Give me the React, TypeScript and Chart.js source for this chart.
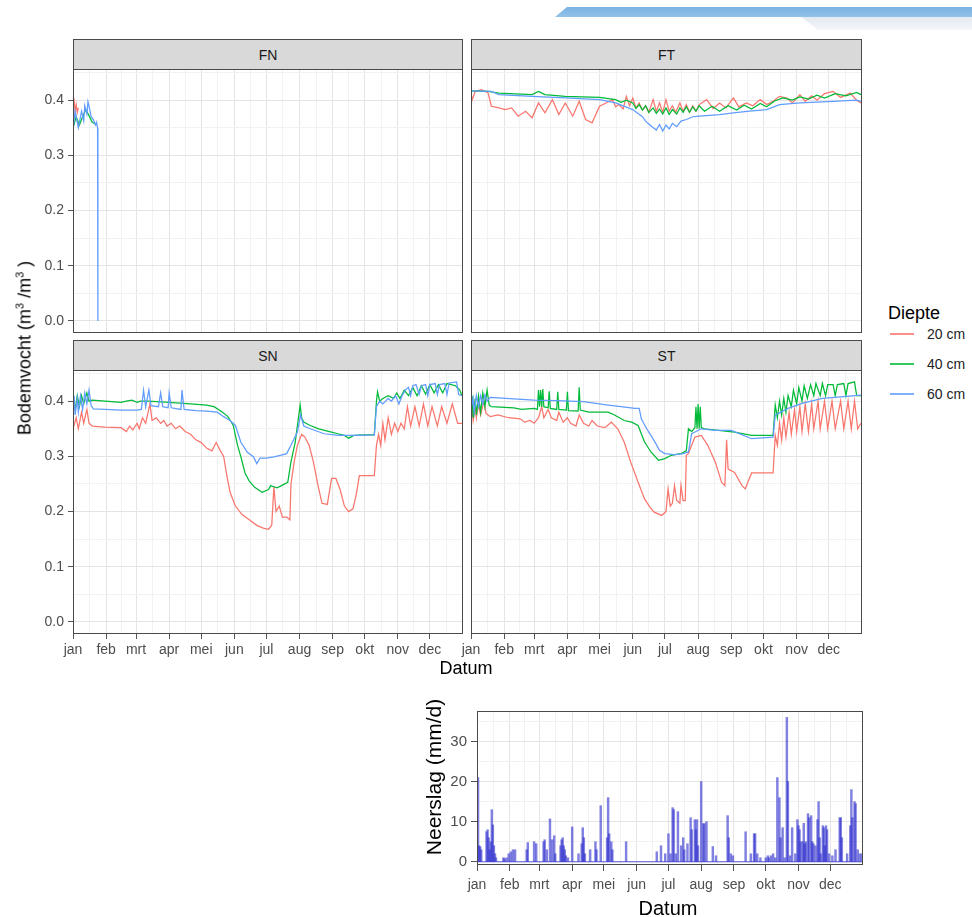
import React, { useEffect, useRef } from "react";
import { Chart, registerables } from "chart.js";

Chart.register(...registerables);

const FONT = "'Liberation Sans', Arial, Helvetica, sans-serif";

// ---------- categories / ticks ----------
const MONTH_LABELS = ["jan", "feb", "mrt", "apr", "mei", "jun", "jul", "aug", "sep", "okt", "nov", "dec"];
const MONTH_START_DAYS = [0, 31, 59, 90, 120, 151, 181, 212, 243, 273, 304, 334];
const YEAR_END_DAY = 365;
const MOISTURE_MAJOR = [0, 0.1, 0.2, 0.3, 0.4];
const MOISTURE_MINOR = [0.05, 0.15, 0.25, 0.35, 0.45];
const MOISTURE_MIN = -0.0218;
const MOISTURE_MAX = 0.4565;
const RAIN_MAJOR = [0, 10, 20, 30];
const RAIN_MINOR = [5, 15, 25, 35];
const RAIN_MIN = -0.8;
const RAIN_MAX = 37.6;
const DEPTHS = ["20 cm", "40 cm", "60 cm"];
const DEPTH_COLORS = ["#F8766D", "#00BA38", "#619CFF"];

// ---------- soil moisture series: [day of year, m3/m3] ----------
const FN_20 = [[0, 0.395], [1, 0.4], [2, 0.38], [3, 0.392], [4, 0.378], [5, 0.386]];
const FN_40 = [[0, 0.35], [3, 0.37], [6, 0.355], [9, 0.37], [12, 0.383], [15, 0.372], [18, 0.36], [21, 0.357], [22, 0.355]];
const FN_60 = [[0, 0.345], [2, 0.38], [4, 0.36], [5, 0.35], [7, 0.37], [8, 0.38], [10, 0.362], [11, 0.39], [13, 0.375], [14, 0.397], [16, 0.38], [17, 0.37], [19, 0.365], [21, 0.355], [22, 0.36], [23, 0.35], [23.3, 0.0]];

const FT_20 = [[0, 0.414], [1, 0.4], [4, 0.416], [10, 0.419], [16, 0.413], [19, 0.389], [26, 0.386], [32, 0.383], [38, 0.386], [44, 0.371], [51, 0.38], [57, 0.368], [63, 0.395], [69, 0.377], [76, 0.401], [82, 0.374], [88, 0.395], [95, 0.371], [101, 0.398], [107, 0.365], [113, 0.359], [120, 0.389], [126, 0.395], [132, 0.401], [135, 0.388], [138, 0.392], [142, 0.384], [145, 0.407], [148, 0.39], [151, 0.404], [154, 0.386], [157, 0.395], [160, 0.382], [163, 0.39], [166, 0.378], [170, 0.401], [173, 0.38], [176, 0.395], [179, 0.378], [182, 0.401], [185, 0.38], [188, 0.39], [191, 0.378], [195, 0.395], [198, 0.38], [201, 0.392], [204, 0.378], [207, 0.39], [210, 0.38], [213, 0.392], [220, 0.401], [226, 0.385], [232, 0.395], [238, 0.386], [245, 0.404], [250, 0.388], [257, 0.395], [263, 0.39], [270, 0.401], [276, 0.392], [282, 0.398], [288, 0.407], [295, 0.404], [300, 0.395], [307, 0.41], [312, 0.398], [318, 0.408], [323, 0.4], [330, 0.412], [338, 0.416], [345, 0.405], [354, 0.413], [360, 0.4], [364, 0.395]];
const FT_40 = [[0, 0.417], [16, 0.416], [26, 0.413], [57, 0.41], [63, 0.416], [69, 0.41], [88, 0.407], [120, 0.405], [135, 0.401], [140, 0.396], [145, 0.4], [151, 0.395], [154, 0.385], [157, 0.392], [160, 0.382], [163, 0.39], [166, 0.378], [170, 0.386], [173, 0.376], [176, 0.384], [179, 0.375], [182, 0.386], [185, 0.374], [188, 0.383], [192, 0.375], [195, 0.386], [198, 0.378], [201, 0.388], [204, 0.378], [207, 0.388], [210, 0.38], [213, 0.39], [218, 0.38], [225, 0.389], [232, 0.38], [240, 0.39], [248, 0.382], [255, 0.391], [262, 0.384], [270, 0.394], [276, 0.388], [283, 0.398], [291, 0.404], [300, 0.4], [307, 0.406], [315, 0.402], [323, 0.409], [330, 0.404], [340, 0.412], [350, 0.408], [360, 0.414], [364, 0.41]];
const FT_60 = [[0, 0.417], [19, 0.416], [26, 0.41], [57, 0.407], [88, 0.404], [120, 0.401], [135, 0.395], [151, 0.383], [160, 0.37], [163, 0.362], [166, 0.357], [169, 0.352], [173, 0.346], [176, 0.356], [179, 0.344], [182, 0.355], [185, 0.348], [188, 0.358], [192, 0.352], [196, 0.362], [201, 0.365], [207, 0.37], [213, 0.371], [232, 0.374], [245, 0.377], [260, 0.38], [276, 0.383], [288, 0.392], [307, 0.395], [338, 0.398], [360, 0.4], [364, 0.398]];

const SN_20 = [[0, 0.35], [3, 0.37], [5, 0.35], [8, 0.38], [10, 0.36], [13, 0.385], [15, 0.36], [18, 0.355], [30, 0.353], [45, 0.352], [50, 0.345], [53, 0.355], [56, 0.348], [60, 0.36], [62, 0.35], [65, 0.37], [68, 0.36], [72, 0.395], [74, 0.365], [78, 0.37], [82, 0.36], [85, 0.365], [88, 0.355], [92, 0.36], [96, 0.35], [100, 0.355], [105, 0.345], [110, 0.34], [115, 0.33], [120, 0.325], [125, 0.315], [130, 0.31], [134, 0.325], [138, 0.31], [141, 0.3], [144, 0.265], [147, 0.235], [152, 0.21], [158, 0.195], [165, 0.185], [172, 0.175], [178, 0.17], [183, 0.168], [186, 0.175], [188, 0.245], [190, 0.2], [193, 0.21], [196, 0.19], [200, 0.19], [203, 0.185], [204, 0.25], [207, 0.29], [210, 0.32], [214, 0.34], [217, 0.335], [221, 0.32], [225, 0.29], [229, 0.25], [233, 0.215], [238, 0.213], [242, 0.26], [246, 0.26], [250, 0.24], [254, 0.21], [258, 0.2], [262, 0.205], [265, 0.23], [268, 0.265], [275, 0.265], [282, 0.265], [284, 0.32], [286, 0.34], [288, 0.32], [290, 0.36], [292, 0.33], [295, 0.37], [298, 0.34], [301, 0.36], [304, 0.345], [307, 0.36], [310, 0.35], [313, 0.39], [316, 0.355], [320, 0.39], [324, 0.355], [328, 0.395], [332, 0.355], [336, 0.39], [341, 0.355], [345, 0.39], [350, 0.36], [355, 0.395], [360, 0.36], [364, 0.36]];
const SN_40 = [[0, 0.4], [2, 0.385], [4, 0.41], [6, 0.39], [8, 0.41], [10, 0.395], [13, 0.415], [15, 0.4], [18, 0.402], [30, 0.4], [45, 0.398], [50, 0.4], [55, 0.402], [60, 0.398], [63, 0.4], [70, 0.4], [90, 0.398], [110, 0.395], [125, 0.393], [132, 0.39], [140, 0.38], [145, 0.372], [150, 0.356], [154, 0.32], [157, 0.3], [161, 0.27], [165, 0.255], [170, 0.244], [177, 0.235], [183, 0.24], [185, 0.247], [188, 0.245], [191, 0.243], [196, 0.248], [201, 0.253], [204, 0.29], [208, 0.326], [211, 0.37], [212.6, 0.393], [214, 0.37], [216, 0.362], [222, 0.356], [230, 0.35], [240, 0.345], [248, 0.341], [254, 0.338], [258, 0.333], [263, 0.338], [272, 0.339], [282, 0.339], [284, 0.4], [285, 0.417], [287, 0.4], [290, 0.405], [295, 0.41], [300, 0.405], [303, 0.415], [306, 0.405], [310, 0.42], [314, 0.41], [318, 0.425], [322, 0.41], [326, 0.428], [330, 0.413], [334, 0.43], [338, 0.415], [342, 0.43], [346, 0.415], [350, 0.432], [354, 0.43], [358, 0.428], [362, 0.42], [364, 0.41]];
const SN_60 = [[0, 0.39], [1, 0.41], [2, 0.375], [4, 0.405], [5, 0.38], [7, 0.41], [9, 0.385], [11, 0.415], [13, 0.395], [15, 0.42], [17, 0.392], [19, 0.386], [30, 0.385], [45, 0.384], [60, 0.384], [64, 0.385], [66, 0.42], [68, 0.39], [71, 0.42], [73, 0.392], [80, 0.39], [82, 0.415], [84, 0.39], [89, 0.388], [90, 0.415], [92, 0.388], [101, 0.385], [102, 0.42], [104, 0.385], [115, 0.383], [125, 0.382], [135, 0.38], [141, 0.372], [147, 0.365], [152, 0.356], [157, 0.326], [163, 0.308], [169, 0.299], [172, 0.287], [175, 0.297], [181, 0.297], [188, 0.299], [194, 0.302], [200, 0.305], [204, 0.32], [210, 0.344], [213, 0.375], [216, 0.355], [222, 0.35], [235, 0.341], [248, 0.338], [263, 0.338], [282, 0.339], [284, 0.39], [287, 0.4], [290, 0.395], [295, 0.405], [298, 0.4], [302, 0.41], [305, 0.395], [308, 0.41], [311, 0.42], [314, 0.425], [316, 0.41], [318, 0.428], [321, 0.43], [324, 0.412], [326, 0.428], [330, 0.43], [332, 0.41], [334, 0.43], [339, 0.432], [341, 0.412], [343, 0.43], [348, 0.432], [350, 0.412], [352, 0.433], [359, 0.435], [361, 0.412], [364, 0.41]];

const ST_20 = [[0, 0.37], [1, 0.385], [2, 0.365], [4, 0.39], [5, 0.37], [7, 0.395], [9, 0.375], [12, 0.4], [14, 0.378], [18, 0.372], [25, 0.375], [35, 0.37], [46, 0.368], [50, 0.362], [55, 0.365], [59, 0.36], [63, 0.37], [66, 0.39], [68, 0.37], [72, 0.385], [75, 0.37], [80, 0.365], [82, 0.38], [86, 0.362], [90, 0.37], [93, 0.36], [98, 0.355], [101, 0.375], [105, 0.36], [110, 0.355], [113, 0.365], [118, 0.355], [125, 0.352], [131, 0.362], [137, 0.35], [143, 0.326], [149, 0.29], [156, 0.253], [162, 0.223], [167, 0.208], [171, 0.199], [178, 0.193], [182, 0.2], [184, 0.241], [186, 0.21], [188, 0.215], [190, 0.247], [192, 0.22], [195, 0.215], [196, 0.247], [198, 0.22], [200, 0.22], [201, 0.302], [203, 0.305], [206, 0.32], [209, 0.335], [215, 0.338], [221, 0.32], [228, 0.29], [234, 0.253], [237, 0.247], [238.6, 0.33], [240, 0.277], [246, 0.271], [253, 0.247], [256, 0.241], [259, 0.256], [262, 0.27], [270, 0.27], [282, 0.27], [284, 0.338], [286, 0.32], [288, 0.36], [290, 0.33], [292, 0.37], [294, 0.335], [297, 0.38], [299, 0.34], [302, 0.385], [304, 0.345], [307, 0.39], [309, 0.345], [312, 0.395], [315, 0.345], [318, 0.395], [320, 0.35], [324, 0.4], [326, 0.35], [330, 0.4], [333, 0.35], [337, 0.4], [340, 0.35], [345, 0.4], [348, 0.35], [352, 0.4], [355, 0.35], [358, 0.4], [361, 0.35], [364, 0.36]];
const ST_40 = [[0, 0.38], [1, 0.41], [2, 0.37], [4, 0.405], [5, 0.375], [7, 0.41], [9, 0.38], [11, 0.415], [13, 0.39], [15, 0.42], [17, 0.393], [19, 0.39], [40, 0.388], [47, 0.385], [59, 0.387], [62, 0.385], [63, 0.42], [64, 0.39], [65, 0.42], [66, 0.39], [67, 0.422], [68, 0.39], [72, 0.388], [73, 0.418], [74, 0.387], [80, 0.385], [81, 0.417], [82, 0.385], [89, 0.384], [90, 0.417], [91, 0.383], [100, 0.382], [101, 0.425], [102, 0.384], [110, 0.38], [128, 0.38], [134, 0.375], [143, 0.365], [150, 0.362], [156, 0.356], [162, 0.326], [168, 0.308], [175, 0.293], [181, 0.296], [187, 0.302], [196, 0.305], [201, 0.31], [203, 0.35], [206, 0.345], [209, 0.352], [210, 0.39], [211, 0.35], [212, 0.395], [213, 0.35], [214, 0.39], [215, 0.352], [218, 0.35], [231, 0.347], [246, 0.344], [262, 0.338], [282, 0.338], [284, 0.393], [286, 0.37], [288, 0.4], [290, 0.375], [292, 0.405], [294, 0.38], [296, 0.41], [299, 0.39], [301, 0.42], [304, 0.395], [306, 0.425], [309, 0.4], [311, 0.428], [314, 0.405], [317, 0.43], [320, 0.41], [322, 0.432], [326, 0.41], [328, 0.432], [331, 0.41], [333, 0.43], [338, 0.43], [340, 0.41], [342, 0.43], [348, 0.432], [350, 0.41], [352, 0.432], [358, 0.435], [360, 0.41], [364, 0.41]];
const ST_60 = [[0, 0.385], [2, 0.405], [3, 0.38], [5, 0.41], [7, 0.39], [9, 0.41], [11, 0.395], [13, 0.412], [15, 0.4], [18, 0.407], [40, 0.404], [59, 0.402], [80, 0.401], [105, 0.399], [128, 0.393], [140, 0.39], [153, 0.387], [157, 0.387], [159, 0.368], [164, 0.35], [168, 0.338], [172, 0.325], [176, 0.311], [181, 0.305], [190, 0.303], [198, 0.305], [203, 0.308], [206, 0.341], [215, 0.35], [228, 0.347], [243, 0.347], [262, 0.332], [282, 0.335], [284, 0.375], [296, 0.387], [309, 0.396], [328, 0.405], [345, 0.408], [364, 0.411]];

// ---------- precipitation: day of year, mm/d ----------
const RAIN_DAYS = [1, 2, 3, 4, 9, 10, 11, 12, 13, 14, 15, 16, 17, 18, 25, 26, 28, 30, 32, 34, 36, 47, 48, 54, 56, 63, 64, 66, 69, 71, 73, 74, 79, 80, 81, 82, 83, 84, 86, 90, 96, 99, 100, 101, 102, 107, 112, 113, 117, 123, 124, 125, 127, 128, 141, 170, 174, 178, 181, 183, 185, 186, 188, 190, 193, 195, 196, 199, 202, 203, 206, 207, 208, 209, 212, 214, 215, 217, 223, 226, 237, 238, 240, 242, 254, 259, 262, 263, 265, 268, 273, 275, 276, 278, 280, 282, 284, 286, 287, 289, 291, 293, 294, 296, 298, 301, 303, 304, 305, 306, 308, 309, 310, 311, 313, 314, 316, 317, 318, 320, 322, 323, 324, 325, 327, 328, 329, 330, 331, 333, 336, 339, 343, 344, 345, 350, 353, 354, 355, 357, 358, 360, 362, 364];
const RAIN_MM = [21, 4, 3.8, 3, 7.5, 8, 6, 3, 5, 13, 9.2, 4, 2, 1, 1, 0.8, 1, 2, 2.5, 3, 3, 3, 4.8, 5, 4.5, 5, 5.5, 3, 10.7, 5.5, 6.5, 2, 4, 5.5, 6, 4, 3, 1.5, 1, 8.7, 2, 4.5, 8.5, 6, 2, 3, 5, 3, 14, 6, 16, 7, 5, 3, 5, 2.5, 4, 2, 7, 2, 13.5, 13, 2, 12.5, 4, 6, 3, 4.5, 11, 8, 10.5, 8, 10.5, 4, 20, 9.5, 9.5, 10, 3.8, 1.5, 11.5, 6, 2, 1.5, 7.5, 2, 7, 7, 2, 1, 1, 1.5, 1, 1.5, 2, 1, 21, 16, 6, 8.5, 1, 36, 20, 1.5, 8.5, 2, 10.5, 9, 8, 5, 5, 9.6, 4.5, 5, 12, 11, 11.5, 5, 4.5, 4, 10.5, 15, 6, 2, 9, 8.5, 4, 9, 8, 2, 1.5, 3, 11, 11, 6, 2, 9, 18, 11, 15, 14.5, 3, 2, 2];
// dry days are drawn as zero-height bars: a thin baseline from the first to the last day
const RAIN_ZERO_SPAN = [[0, 0], [YEAR_END_DAY, 0]];

// ---------- helpers ----------
const near = (a: number, b: number) => Math.abs(a - b) < 1e-6;
const xMajor = MONTH_START_DAYS;
const xBounds = [...MONTH_START_DAYS, YEAR_END_DAY];
const xMinor = xBounds.slice(1).map((d, i) => (d + xBounds[i]) / 2);
const X_TICKS = [...xMajor, ...xMinor].sort((a, b) => a - b);
const monthLabel = (v: number) => {
  const i = MONTH_START_DAYS.findIndex((d) => near(d, v));
  return i >= 0 ? MONTH_LABELS[i] : "";
};
const isXMajor = (v: number) => xMajor.some((d) => near(d, v));

const GRID_MAJOR = "#e4e4e4";
const GRID_MINOR = "#f2f2f2";
const TICK_COLOR = "#4d4d4d";
const FRAME_COLOR = "#4a4a4a";

const framePlugin = {
  id: "frame",
  afterDraw(chart: any) {
    const { ctx, chartArea: a } = chart;
    ctx.save();
    ctx.strokeStyle = FRAME_COLOR;
    ctx.lineWidth = 1;
    ctx.strokeRect(Math.round(a.left) + 0.5, Math.round(a.top) + 0.5, Math.round(a.right - a.left) - 1, Math.round(a.bottom - a.top) - 1);
    ctx.restore();
  },
};

type Pads = { l: number; r: number; t: number; b: number };

function xScale(showX: boolean, pads: Pads, fontSize: number, tickLen: number, pad: number) {
  return {
    type: "linear",
    min: 0,
    max: YEAR_END_DAY,
    offset: false,
    afterBuildTicks: (s: any) => {
      s.ticks = X_TICKS.map((v) => ({ value: v }));
    },
    afterFit: (s: any) => {
      s.height = showX ? pads.b : 0;
    },
    border: { display: false },
    grid: {
      offset: false,
      lineWidth: 1,
      color: (c: any) => (c.tick && isXMajor(c.tick.value) ? GRID_MAJOR : GRID_MINOR),
      drawTicks: showX,
      tickLength: tickLen,
      tickWidth: 1,
      tickColor: (c: any) => (c.tick && isXMajor(c.tick.value) ? "#555" : "rgba(0,0,0,0)"),
    },
    ticks: {
      display: showX,
      autoSkip: false,
      maxRotation: 0,
      minRotation: 0,
      padding: pad,
      color: TICK_COLOR,
      font: { family: FONT, size: fontSize },
      callback: (v: any) => monthLabel(Number(v)),
    },
  };
}

function yScale(showY: boolean, pads: Pads, min: number, max: number, majors: number[], minors: number[], fmt: (v: number) => string, fontSize: number, tickLen: number, pad: number) {
  const all = [...majors, ...minors].filter((v) => v >= min && v <= max).sort((a, b) => a - b);
  const isMaj = (v: number) => majors.some((m) => near(m, v));
  return {
    type: "linear",
    min,
    max,
    afterBuildTicks: (s: any) => {
      s.ticks = all.map((v) => ({ value: v }));
    },
    afterFit: (s: any) => {
      s.width = showY ? pads.l : 0;
    },
    border: { display: false },
    grid: {
      lineWidth: 1,
      color: (c: any) => (c.tick && isMaj(c.tick.value) ? GRID_MAJOR : GRID_MINOR),
      drawTicks: showY,
      tickLength: tickLen,
      tickWidth: 1,
      tickColor: (c: any) => (c.tick && isMaj(c.tick.value) ? "#555" : "rgba(0,0,0,0)"),
    },
    ticks: {
      display: showY,
      autoSkip: false,
      padding: pad,
      color: TICK_COLOR,
      font: { family: FONT, size: fontSize },
      callback: (v: any) => (isMaj(Number(v)) ? fmt(Number(v)) : ""),
    },
  };
}

function moistureConfig(series: number[][][], showX: boolean, showY: boolean, pads: Pads) {
  return {
    type: "line",
    data: {
      datasets: series.map((s, i) => ({
        label: DEPTHS[i],
        data: s.map(([x, y]) => ({ x, y })),
        borderColor: DEPTH_COLORS[i],
        backgroundColor: DEPTH_COLORS[i],
        borderWidth: 1.25,
        pointRadius: 0,
        tension: 0,
        fill: false,
        order: 2 - i,
      })),
    },
    options: {
      responsive: false,
      animation: false,
      events: [],
      layout: { padding: { left: showY ? 0 : pads.l, right: pads.r, top: pads.t, bottom: showX ? 0 : pads.b } },
      plugins: { legend: { display: false }, tooltip: { enabled: false } },
      scales: {
        x: xScale(showX, pads, 14, 5, 3),
        y: yScale(showY, pads, MOISTURE_MIN, MOISTURE_MAX, MOISTURE_MAJOR, MOISTURE_MINOR, (v) => v.toFixed(1), 14, 5, 4),
      },
    },
    plugins: [framePlugin],
  };
}

function rainConfig(pads: Pads) {
  return {
    type: "bar",
    data: {
      datasets: [
        {
          type: "line",
          label: "droog",
          data: RAIN_ZERO_SPAN.map(([x, y]) => ({ x, y })),
          borderColor: "rgba(40,40,200,0.75)",
          borderWidth: 1,
          pointRadius: 0,
          order: 1,
        },
        {
          label: "Neerslag",
          data: RAIN_DAYS.map((d, i) => ({ x: d, y: RAIN_MM[i] })),
          backgroundColor: "rgba(45,45,205,0.6)",
          borderColor: "rgba(20,20,110,0.8)",
          borderWidth: 0,
          barThickness: 1.8,
          grouped: false,
          order: 0,
        },
      ],
    },
    options: {
      responsive: false,
      animation: false,
      events: [],
      layout: { padding: { left: 0, right: pads.r, top: pads.t, bottom: 0 } },
      plugins: { legend: { display: false }, tooltip: { enabled: false } },
      scales: {
        x: xScale(true, pads, 14, 6, 6),
        y: yScale(true, pads, RAIN_MIN, RAIN_MAX, RAIN_MAJOR, RAIN_MINOR, (v) => String(Math.round(v)), 15, 6, 4),
      },
    },
    plugins: [framePlugin],
  };
}

type Box = { left: number; top: number; width: number; height: number };

function ChartCanvas({ box, pads, build }: { box: Box; pads: Pads; build: () => any }) {
  const ref = useRef<HTMLCanvasElement | null>(null);
  useEffect(() => {
    if (!ref.current) return;
    const chart = new Chart(ref.current, build());
    return () => chart.destroy();
  }, []);
  const w = pads.l + box.width + pads.r;
  const h = pads.t + box.height + pads.b;
  return (
    <canvas
      ref={ref}
      width={w}
      height={h}
      style={{ position: "absolute", left: box.left - pads.l, top: box.top - pads.t, width: w, height: h }}
    />
  );
}

function Strip({ left, top, width, label }: { left: number; top: number; width: number; label: string }) {
  return (
    <div
      style={{
        position: "absolute",
        left,
        top,
        width,
        height: 31,
        boxSizing: "border-box",
        background: "#d9d9d9",
        border: `1px solid ${FRAME_COLOR}`,
        display: "flex",
        alignItems: "center",
        justifyContent: "center",
        fontFamily: FONT,
        fontSize: 14,
        color: "#1a1a1a",
        zIndex: 2,
      }}
    >
      {label}
    </div>
  );
}

function CenterText({ x, y, size, rotate, children, color }: any) {
  return (
    <div
      style={{
        position: "absolute",
        left: x,
        top: y,
        transform: `translate(-50%, -50%)${rotate ? " rotate(-90deg)" : ""}`,
        whiteSpace: "nowrap",
        fontFamily: FONT,
        fontSize: size,
        lineHeight: 1,
        color: color || "#000",
        zIndex: 3,
      }}
    >
      {children}
    </div>
  );
}

const PANEL_W_LEFT = 390;
const PANEL_W_RIGHT = 391;
const PANEL_H = 264;

export default function App() {
  const padsLeftTop: Pads = { l: 70, r: 4, t: 18, b: 18 };
  const padsRightTop: Pads = { l: 18, r: 4, t: 18, b: 18 };
  const padsLeftBottom: Pads = { l: 70, r: 4, t: 18, b: 30 };
  const padsRightBottom: Pads = { l: 18, r: 4, t: 18, b: 30 };
  const padsRain: Pads = { l: 45, r: 4, t: 18, b: 35 };

  return (
    <div style={{ position: "absolute", left: 0, top: 0, width: 972, height: 917, background: "#fff", overflow: "hidden" }}>
      {/* decorative header band */}
      <div style={{ position: "absolute", left: 800, top: 16, width: 172, height: 14, background: "linear-gradient(#e3e9f0, #f3f6f9)", clipPath: "polygon(0 0, 100% 0, 100% 100%, 18px 100%)" }} />
      <div style={{ position: "absolute", left: 555, top: 7, width: 417, height: 10, background: "linear-gradient(#7ab2e2, #92c2ea)", clipPath: "polygon(12px 0, 100% 0, 100% 100%, 0 100%)" }} />

      <ChartCanvas box={{ left: 73, top: 69, width: PANEL_W_LEFT, height: PANEL_H }} pads={padsLeftTop} build={() => moistureConfig([FN_20, FN_40, FN_60], false, true, padsLeftTop)} />
      <ChartCanvas box={{ left: 471, top: 69, width: PANEL_W_RIGHT, height: PANEL_H }} pads={padsRightTop} build={() => moistureConfig([FT_20, FT_40, FT_60], false, false, padsRightTop)} />
      <ChartCanvas box={{ left: 73, top: 370, width: PANEL_W_LEFT, height: PANEL_H }} pads={padsLeftBottom} build={() => moistureConfig([SN_20, SN_40, SN_60], true, true, padsLeftBottom)} />
      <ChartCanvas box={{ left: 471, top: 370, width: PANEL_W_RIGHT, height: PANEL_H }} pads={padsRightBottom} build={() => moistureConfig([ST_20, ST_40, ST_60], true, false, padsRightBottom)} />

      <Strip left={73} top={39} width={PANEL_W_LEFT} label="FN" />
      <Strip left={471} top={39} width={PANEL_W_RIGHT} label="FT" />
      <Strip left={73} top={340} width={PANEL_W_LEFT} label="SN" />
      <Strip left={471} top={340} width={PANEL_W_RIGHT} label="ST" />

      <CenterText x={24} y={348} size={18} rotate>
        Bodemvocht (m<sup style={{ fontSize: 11 }}>3</sup> /m<sup style={{ fontSize: 11 }}>3</sup> )
      </CenterText>
      <CenterText x={466} y={668} size={18}>Datum</CenterText>

      {/* legend */}
      <div style={{ position: "absolute", left: 888, top: 304, fontFamily: FONT, fontSize: 18, lineHeight: 1, color: "#000" }}>Diepte</div>
      {DEPTHS.map((d, i) => (
        <div key={d} style={{ position: "absolute", left: 890, top: 334 + i * 30 - 9, height: 18, display: "flex", alignItems: "center" }}>
          <div style={{ width: 24, height: 1.3, background: DEPTH_COLORS[i], opacity: 0.8 }} />
          <div style={{ marginLeft: 13, fontFamily: FONT, fontSize: 14, color: "#222" }}>{d}</div>
        </div>
      ))}

      {/* precipitation */}
      <ChartCanvas box={{ left: 477, top: 711, width: 386, height: 154 }} pads={padsRain} build={() => rainConfig(padsRain)} />
      <CenterText x={433} y={777} size={21} rotate>Neerslag (mm/d)</CenterText>
      <CenterText x={668} y={908} size={20}>Datum</CenterText>
    </div>
  );
}
